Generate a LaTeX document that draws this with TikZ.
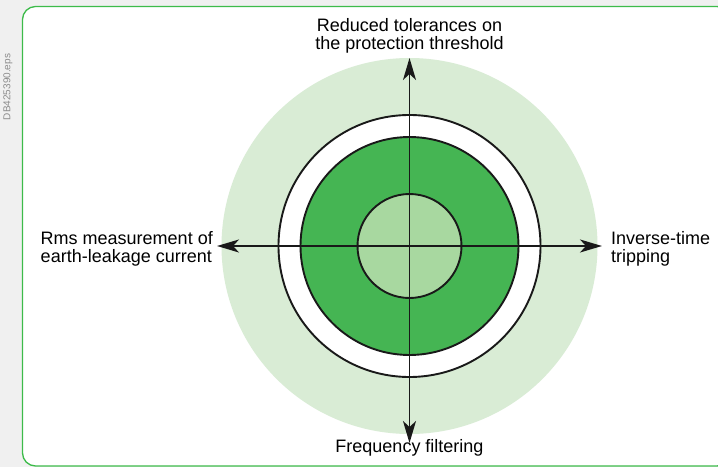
\documentclass[tikz,border=0pt]{standalone}
\usepackage{fontspec}
\setmainfont{Liberation Sans}
\usetikzlibrary{positioning,arrows.meta}
\definecolor{paleg}{HTML}{D9ECD5}
\definecolor{midg}{HTML}{45B553}
\definecolor{lightg}{HTML}{A8D8A0}
\definecolor{frameg}{HTML}{3DBB4A}
\definecolor{stripgray}{HTML}{F0F0F0}
\tikzset{disc/.style={circle, draw=black!90, line width=1.9pt, inner sep=0pt, minimum size=#1}}
\tikzset{arr/.style={draw=black!90, line width=1.9pt, -{Stealth[length=22pt,width=13pt,inset=6pt]}}}
\tikzset{lbl/.style={font=\fontsize{18}{17.7}\selectfont, inner sep=0pt, text=black}}

\begin{document}
\begin{tikzpicture}[x=1pt, y=1pt]
	\useasboundingbox (0,0) rectangle (718,467);
	\clip (0,0) rectangle (718,467);
	\fill[stripgray] (0,0) rectangle (718,467);
	\draw[frameg, line width=1.3pt, fill=white, rounded corners=13pt]
		(22.5,1) rectangle (730,460.5);
	\node[rotate=90, text=black!45, font=\fontsize{10}{12}\selectfont] (tag) at (8,380) {DB425390.eps};
	% rings
	\node[circle, fill=paleg, inner sep=0pt, minimum size=376pt] (halo) at (409.5,221) {};
	\node[disc=262pt, fill=white] (ring) at (halo.center) {};
	\node[disc=218pt, fill=midg] (core) at (halo.center) {};
	\node[disc=104pt, fill=lightg] (hub) at (halo.center) {};
	% arrow ends
	\coordinate (n) at (409.5,409);
	\coordinate (s) at (409.5,24);
	\coordinate (w) at (217,221);
	\coordinate (e) at (602,221);
	\draw[arr] (hub.center) -- (n);
	\draw[arr] (hub.center) -- (s);
	\draw[arr] (hub.center) -- (w);
	\draw[arr] (hub.center) -- (e);
	% labels
	\node[lbl, align=center, above=5pt of n] (tol) {Reduced tolerances on\\the protection threshold};
	\node[lbl, anchor=base] (filt) at ([yshift=-9pt]s) {Frequency filtering};
	\node[lbl, align=left, left=4pt of w, yshift=-3pt] (rms) {Rms measurement of\\earth-leakage current};
	\node[lbl, align=left, right=9pt of e, yshift=-3pt] (inv) {Inverse-time\\tripping};
\end{tikzpicture}
\end{document}
